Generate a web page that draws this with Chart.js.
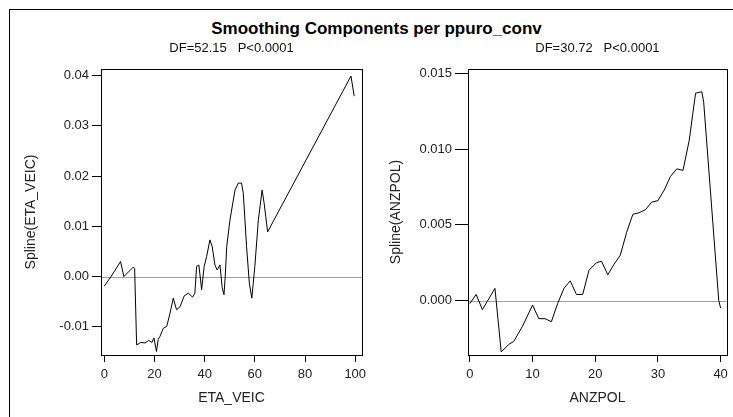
<!DOCTYPE html>
<html>
<head>
<meta charset="utf-8">
<script src="https://cdn.jsdelivr.net/npm/chart.js@4.4.1/dist/chart.umd.min.js"></script>
<style>
	html, body { margin: 0; padding: 0; background: #fff; overflow: hidden; }
	#pagina { position: relative; width: 733px; height: 417px; overflow: hidden; }
	#moldura { position: absolute; left: 9px; top: 9px; width: 800px; height: 500px; border: 1px solid #000; }
	#titulo { position: absolute; left: 10px; top: 19px; width: 733px; text-align: center;
		font: bold 17px "Liberation Sans", Arial, sans-serif; line-height: 20px; color: #000; }
	canvas { position: absolute; top: 0; }
	#graficoEta { left: 0; }
	#graficoAnz { left: 372px; }
</style>
</head>
<body>
<div id="pagina">
	<div id="moldura"></div>
	<div id="titulo">Smoothing Components per ppuro_conv</div>
	<canvas id="graficoEta" width="372" height="417"></canvas>
	<canvas id="graficoAnz" width="361" height="417"></canvas>
</div>
<script>
	// spline ETA_VEIC
	var etaVeic = [0, 2.7, 6.5, 7.8, 11.6, 12.1, 12.9, 14.5, 16.3, 17.7, 19.0, 19.8, 20.8, 21.5,
		22.2, 23.5, 24.9, 26.2, 27.5, 28.8, 30.2, 31.9, 33.5, 35.2, 36.1, 36.8, 37.7, 38.8, 39.8,
		40.8, 42.1, 43.0, 44.1, 45.0, 46.1, 47.0, 47.7, 48.2, 48.8, 50.1, 52.1, 53.4, 54.7, 55.4,
		56.7, 57.8, 58.8, 60.0, 61.4, 62.9, 63.7, 65.1, 98.3, 99.6];
	var splineEta = [-0.0019, 0.0000, 0.0030, 0.0000, 0.0019, 0.0016, -0.0136, -0.0131, -0.0132,
		-0.0127, -0.0131, -0.0122, -0.0149, -0.0125, -0.0119, -0.0103, -0.0099, -0.0073, -0.0043,
		-0.0066, -0.0060, -0.0038, -0.0033, -0.0041, -0.0033, 0.0020, 0.0023, -0.0026, 0.0020,
		0.0040, 0.0073, 0.0060, 0.0023, 0.0013, 0.0023, -0.0022, -0.0036, 0.0000, 0.0060, 0.0113,
		0.0172, 0.0186, 0.0186, 0.0166, 0.0060, -0.0013, -0.0043, 0.0020, 0.0113, 0.0172, 0.0146,
		0.0089, 0.0399, 0.0359];

	// spline ANZPOL
	var anzpol = [0, 1, 2, 4, 5, 6.2, 7, 8.4, 10, 11, 12, 13, 14, 15, 16, 17, 18, 19, 20.2, 21,
		22, 23, 24, 25, 26, 27, 28, 29, 30, 31, 32, 33, 34, 35, 36, 37, 37.3, 39.7, 40];
	var splineAnz = [-0.0002, 0.0004, -0.0006, 0.0008, -0.0034, -0.0029, -0.0027, -0.0017,
		-0.0003, -0.0012, -0.0012, -0.0014, -0.0002, 0.0008, 0.0013, 0.0004, 0.0004, 0.0020,
		0.0025, 0.0026, 0.0017, 0.0024, 0.0030, 0.0045, 0.0057, 0.0058, 0.0060, 0.0065, 0.0066,
		0.0073, 0.0082, 0.0087, 0.0086, 0.0106, 0.0137, 0.0138, 0.0131, 0.0000, -0.0005];

	var fonte = '"Liberation Sans", Arial, sans-serif';

	// caixa do grafico e linha de referencia no zero
	var molduraPlugin = {
		id: 'moldura',
		beforeDatasetsDraw: function(chart) {
			var area = chart.chartArea;
			var y0 = Math.round(chart.scales.y.getPixelForValue(0)) + 0.5;
			var ctx = chart.ctx;
			ctx.save();
			ctx.strokeStyle = '#a0a0a0';
			ctx.lineWidth = 1;
			ctx.beginPath();
			ctx.moveTo(area.left, y0);
			ctx.lineTo(area.right, y0);
			ctx.stroke();
			ctx.restore();
		},
		afterDraw: function(chart) {
			var area = chart.chartArea;
			var ctx = chart.ctx;
			ctx.save();
			ctx.strokeStyle = '#000';
			ctx.lineWidth = 1;
			ctx.strokeRect(Math.round(area.left) + 0.5, Math.round(area.top) + 0.5,
				Math.round(area.right - area.left), Math.round(area.bottom - area.top));
			ctx.restore();
		}
	};

	function montarPontos(xs, ys) {
		return xs.map(function(x, i) { return { x: x, y: ys[i] }; });
	}

	function criarGrafico(idCanvas, pontos, cfg) {
		return new Chart(document.getElementById(idCanvas).getContext('2d'), {
			type: 'line',
			data: {
				datasets: [{
					data: pontos,
					borderColor: '#000',
					borderWidth: 1,
					pointRadius: 0,
					tension: 0,
					fill: false
				}]
			},
			options: {
				responsive: false,
				animation: false,
				devicePixelRatio: 1,
				layout: { padding: { left: cfg.padEsq, right: cfg.padDir, top: 41, bottom: 8 } },
				plugins: {
					legend: { display: false },
					tooltip: { enabled: false },
					title: {
						display: true,
						text: cfg.subtitulo,
						fullSize: false,
						color: '#111',
						font: { family: fonte, size: 13, weight: 'normal' },
						padding: { top: 0, bottom: 12.4 }
					}
				},
				scales: {
					x: {
						type: 'linear',
						min: cfg.xMin,
						max: cfg.xMax,
						afterFit: function(scale) { scale.height = 54; },
						border: { display: false },
						grid: { drawOnChartArea: false, tickLength: 7, tickColor: '#000' },
						ticks: {
							stepSize: cfg.xPasso,
							includeBounds: false,
							maxRotation: 0,
							padding: 5,
							color: '#222',
							font: { family: fonte, size: 13 }
						},
						title: {
							display: true,
							text: cfg.tituloX,
							color: '#222',
							font: { family: fonte, size: 14 },
							padding: { top: 0, bottom: 2 }
						}
					},
					y: {
						type: 'linear',
						min: cfg.yMin,
						max: cfg.yMax,
						afterFit: function(scale) { scale.width = cfg.larguraY; },
						border: { display: false },
						grid: { drawOnChartArea: false, tickLength: cfg.ticoY, tickColor: '#000' },
						ticks: {
							stepSize: cfg.yPasso,
							includeBounds: false,
							padding: 3,
							color: '#222',
							font: { family: fonte, size: 13 },
							callback: function(valor) {
								if (Math.abs(valor) < 1e-9) valor = 0;
								return valor.toFixed(cfg.casas);
							}
						},
						title: {
							display: true,
							text: cfg.tituloY,
							color: '#222',
							font: { family: fonte, size: 14 },
							padding: { top: 1, bottom: 0 }
						}
					}
				}
			},
			plugins: [molduraPlugin]
		});
	}

	criarGrafico('graficoEta', montarPontos(etaVeic, splineEta), {
		subtitulo: 'DF=52.15   P<0.0001',
		tituloX: 'ETA_VEIC',
		tituloY: 'Spline(ETA_VEIC)',
		xMin: -1.3, xMax: 102.7, xPasso: 20,
		yMin: -0.0156, yMax: 0.0413, yPasso: 0.01, casas: 2,
		padEsq: 22, padDir: 10, larguraY: 79, ticoY: 9
	});

	criarGrafico('graficoAnz', montarPontos(anzpol, splineAnz), {
		subtitulo: 'DF=30.72   P<0.0001',
		tituloX: 'ANZPOL',
		tituloY: 'Spline(ANZPOL)',
		xMin: -0.3, xMax: 41, xPasso: 10,
		yMin: -0.0036, yMax: 0.0153, yPasso: 0.005, casas: 3,
		padEsq: 15, padDir: 4, larguraY: 81, ticoY: 13
	});
</script>
</body>
</html>
